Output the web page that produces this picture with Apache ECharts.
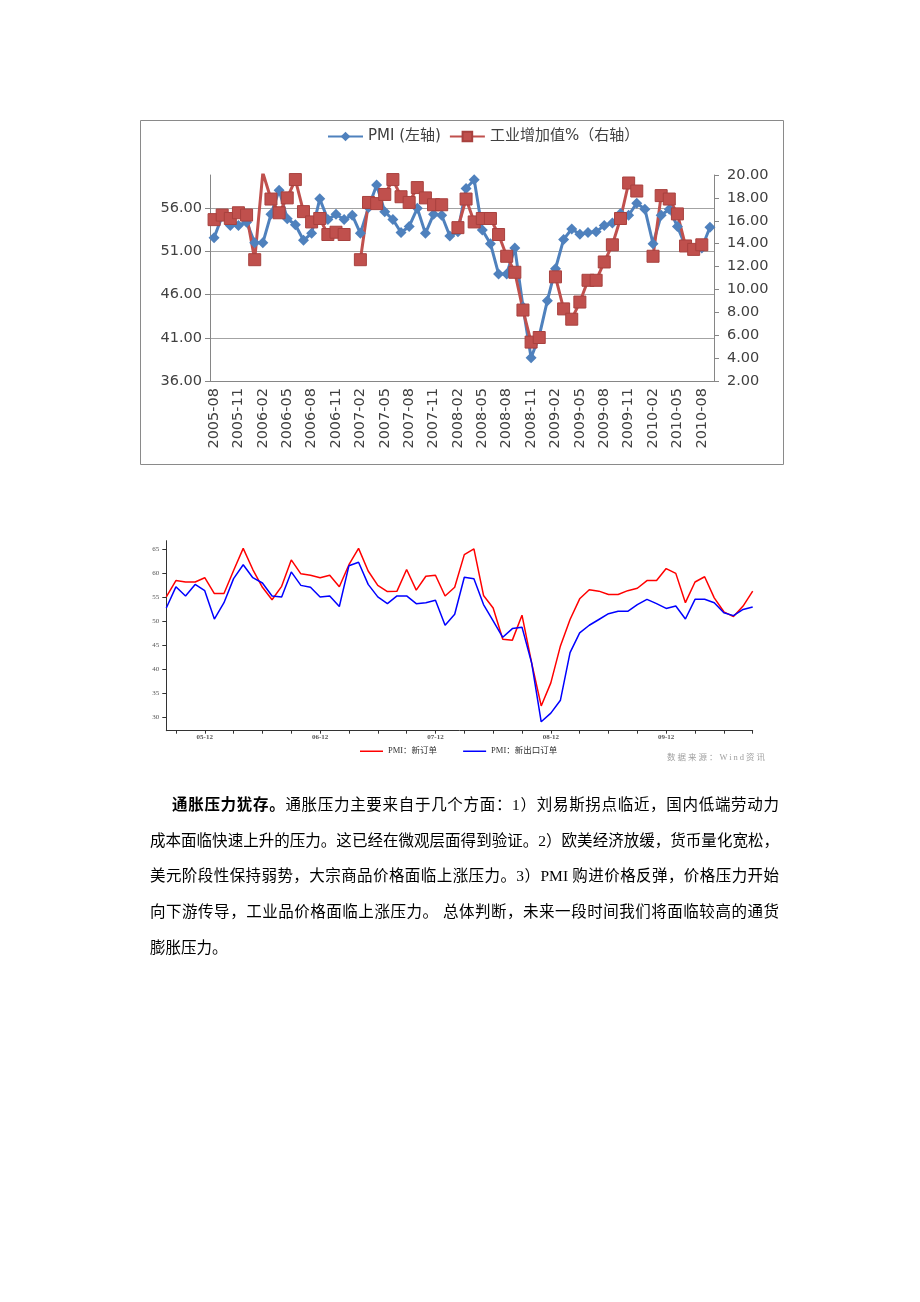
<!DOCTYPE html>
<html>
<head>
<meta charset="utf-8">
<script src="https://cdn.jsdelivr.net/npm/echarts@6/dist/echarts.min.js"></script>
<style>
html,body{margin:0;padding:0;background:#fff;}
#chart{position:absolute;left:0;top:0;width:920px;height:1302px;}
#src{position:absolute;left:667px;top:750px;font-family:"Liberation Serif","Noto Sans CJK SC",serif;font-size:8.5px;letter-spacing:2px;color:#a0a0a0;white-space:nowrap;}
#text{position:absolute;left:150px;top:787px;width:629px;font-family:"Liberation Serif","Noto Sans CJK SC",serif;font-size:15.5px;color:#000;line-height:35.7px;}
#text .ln{text-align:justify;text-align-last:justify;}
#text .last{text-align:left;text-align-last:left;}
#text b{font-weight:bold;}
</style>
</head>
<body>
<div id="chart"></div>
<div id="src">数据来源：Wind资讯</div>
<div id="text">
<div class="ln" style="text-indent:22px"><b>通胀压力犹存。</b>通胀压力主要来自于几个方面：1）刘易斯拐点临近，国内低端劳动力</div>
<div class="ln">成本面临快速上升的压力。这已经在微观层面得到验证。2）欧美经济放缓，货币量化宽松，</div>
<div class="ln">美元阶段性保持弱势，大宗商品价格面临上涨压力。3）PMI 购进价格反弹，价格压力开始</div>
<div class="ln">向下游传导，工业品价格面临上涨压力。 总体判断，未来一段时间我们将面临较高的通货</div>
<div class="ln last">膨胀压力。</div>
</div>
<script>
// ---------- data ----------
const months = [
 '2005-08','2005-09','2005-10','2005-11','2005-12',
 '2006-01','2006-02','2006-03','2006-04','2006-05','2006-06','2006-07','2006-08','2006-09','2006-10','2006-11','2006-12',
 '2007-01','2007-02','2007-03','2007-04','2007-05','2007-06','2007-07','2007-08','2007-09','2007-10','2007-11','2007-12',
 '2008-01','2008-02','2008-03','2008-04','2008-05','2008-06','2008-07','2008-08','2008-09','2008-10','2008-11','2008-12',
 '2009-01','2009-02','2009-03','2009-04','2009-05','2009-06','2009-07','2009-08','2009-09','2009-10','2009-11','2009-12',
 '2010-01','2010-02','2010-03','2010-04','2010-05','2010-06','2010-07','2010-08','2010-09'
];
// Chart 1: PMI (left axis)
const pmi = [
 52.6,55.1,54.0,54.0,54.4,52.0,52.0,55.3,58.1,54.8,
 54.1,52.3,53.1,57.1,54.7,55.3,54.7,55.2,53.1,56.1,
 58.7,55.6,54.7,53.2,53.9,56.0,53.1,55.3,55.2,52.8,
 53.3,58.3,59.3,53.5,51.9,48.4,48.4,51.4,44.6,38.7,
 41.2,45.3,49.0,52.4,53.6,53.0,53.2,53.3,54.0,54.3,
 55.4,55.2,56.6,55.9,51.9,55.2,55.9,53.9,51.6,51.2,
 51.4,53.8
];
// Chart 1: industrial value added % (right axis)
const iav = [
 16.1,16.5,16.2,16.7,16.5,12.6,20.2,17.9,16.7,18.0,
 19.6,16.8,15.9,16.2,14.8,15.0,14.8,null,12.6,17.6,
 17.5,18.3,19.6,18.1,17.6,18.9,18.0,17.4,17.4,null,
 15.4,17.9,15.9,16.2,16.2,14.8,12.9,11.5,8.2,5.4,
 5.8,null,11.1,8.3,7.4,8.9,10.8,10.8,12.4,13.9,
 16.2,19.3,18.6,null,12.9,18.2,17.9,16.6,13.8,13.5,
 13.9,null
];
// Chart 2: PMI new orders / new export orders
const newOrders = [
 55.0,58.4,58.1,58.1,59.0,55.7,55.7,60.5,65.1,60.7,
 57.0,54.4,57.2,62.7,59.8,59.5,59.0,59.5,57.1,61.7,
 65.1,60.4,57.4,56.1,56.2,60.7,56.4,59.3,59.5,55.2,
 57.0,63.8,65.0,55.3,52.7,46.2,46.0,51.2,41.3,32.3,
 37.1,44.8,50.3,54.6,56.5,56.2,55.5,55.5,56.3,56.8,
 58.4,58.4,60.9,59.9,53.8,58.1,59.2,54.8,51.9,50.9,
 53.1,56.2
];
const exportOrders = [
 52.7,57.1,55.2,57.6,56.3,50.4,53.8,58.8,61.7,59.0,
 57.9,55.2,55.0,60.2,57.4,57.0,55.0,55.2,53.0,61.5,
 62.2,57.6,55.0,53.6,55.2,55.2,53.6,53.8,54.3,49.1,
 51.4,59.1,58.8,53.4,50.0,46.6,48.4,48.7,41.3,29.0,
 30.8,33.5,43.4,47.5,49.1,50.3,51.5,52.0,52.0,53.4,
 54.5,53.6,52.6,53.1,50.4,54.5,54.5,53.8,51.7,51.1,
 52.4,52.9
];
const leftTicks = [36, 41, 46, 51, 56];
const chart2Ticks = [30, 35, 40, 45, 50, 55, 60, 65];
const names1 = ['PMI (左轴)', '工业增加值%（右轴）'];
const names2 = ['PMI：新订单', 'PMI：新出口订单'];

// ---------- chart ----------
const F1 = 'DejaVu Sans, Noto Sans CJK SC, sans-serif';
const F2 = 'Liberation Serif, Noto Sans CJK SC, serif';
const chart = echarts.init(document.getElementById('chart'), null, {renderer: 'canvas'});
const option = {
  animation: false,
  backgroundColor: '#fff',
  graphic: [{
    type: 'rect', silent: true,
    shape: {x: 140.5, y: 120.5, width: 643, height: 344},
    style: {fill: 'none', stroke: '#8a8a8a', lineWidth: 1}
  }],
  grid: [
    {left: 210, top: 175, width: 504, height: 206, containLabel: false},
    {left: 166.3, top: 540.7, width: 586.4, height: 190, containLabel: false}
  ],
  legend: [
    {
      data: names1, left: 322, top: 124, itemWidth: 35, itemHeight: 12, itemGap: 8,
      textStyle: {fontFamily: F1, fontSize: 15, color: '#404040'}
    },
    {
      data: names2, left: 355, top: 742, itemWidth: 23, itemHeight: 1.5, itemGap: 26, icon: 'rect',
      textStyle: {fontFamily: F2, fontSize: 8.5, color: '#333'}
    }
  ],
  xAxis: [
    {
      type: 'category', gridIndex: 0, data: months, boundaryGap: true,
      axisLine: {lineStyle: {color: '#868686', width: 1}},
      axisTick: {interval: 2, length: 5, lineStyle: {color: '#868686'}},
      axisLabel: {interval: 2, rotate: 90, margin: 7, fontFamily: F1, fontSize: 14.5, color: '#404040'},
      splitLine: {show: false}
    },
    {
      type: 'category', gridIndex: 1, data: months, boundaryGap: false,
      axisLine: {lineStyle: {color: '#333', width: 1}},
      axisTick: {interval: function (i) { return (i - 1) % 3 === 0; }, length: 3, lineStyle: {color: '#333'}},
      axisLabel: {
        interval: function (i, v) { return v.slice(5) === '12'; },
        formatter: function (v) { return v.slice(2); },
        margin: 3, fontFamily: F2, fontSize: 7, fontWeight: 'bold', color: '#555'
      },
      splitLine: {show: false}
    }
  ],
  yAxis: [
    {
      type: 'value', gridIndex: 0, position: 'left', min: 36, max: 59.86, interval: 5,
      axisLine: {show: true, lineStyle: {color: '#868686'}},
      axisTick: {show: true, length: 5, customValues: leftTicks, lineStyle: {color: '#868686'}},
      axisLabel: {customValues: leftTicks, margin: 8, fontFamily: F1, fontSize: 14.5, color: '#404040',
        formatter: function (v) { return v.toFixed(2); }},
      splitLine: {show: true, lineStyle: {color: '#a3a3a3', width: 1}}
    },
    {
      type: 'value', gridIndex: 0, position: 'right', min: 2, max: 20, interval: 2,
      axisLine: {show: true, lineStyle: {color: '#868686'}},
      axisTick: {show: true, length: 5, lineStyle: {color: '#868686'}},
      axisLabel: {margin: 13, fontFamily: F1, fontSize: 14.5, color: '#404040',
        formatter: function (v) { return v.toFixed(2); }},
      splitLine: {show: false}
    },
    {
      type: 'value', gridIndex: 1, min: 27.15, max: 66.7, interval: 5,
      axisLine: {show: true, lineStyle: {color: '#333'}},
      axisTick: {show: true, length: 4, customValues: chart2Ticks, lineStyle: {color: '#333'}},
      axisLabel: {customValues: chart2Ticks, margin: 7, fontFamily: F2, fontSize: 7, color: '#555'},
      splitLine: {show: false}
    }
  ],
  series: [
    {
      name: names1[0], type: 'line', xAxisIndex: 0, yAxisIndex: 0, data: pmi,
      symbol: 'diamond', symbolSize: 11, showAllSymbol: true,
      itemStyle: {color: '#4F81BD'}, lineStyle: {color: '#4F81BD', width: 3}
    },
    {
      name: names1[1], type: 'line', xAxisIndex: 0, yAxisIndex: 1, data: iav,
      symbol: 'rect', symbolSize: 12, showAllSymbol: true, connectNulls: false,
      itemStyle: {color: '#C0504D', borderColor: '#A8413E', borderWidth: 1},
      lineStyle: {color: '#C0504D', width: 3}
    },
    {
      name: names2[0], type: 'line', xAxisIndex: 1, yAxisIndex: 2, data: newOrders,
      symbol: 'none', itemStyle: {color: '#ff0000'}, lineStyle: {color: '#ff0000', width: 1.5}
    },
    {
      name: names2[1], type: 'line', xAxisIndex: 1, yAxisIndex: 2, data: exportOrders,
      symbol: 'none', itemStyle: {color: '#0000ff'}, lineStyle: {color: '#0000ff', width: 1.5}
    }
  ]
};
chart.setOption(option);
</script>
</body>
</html>
